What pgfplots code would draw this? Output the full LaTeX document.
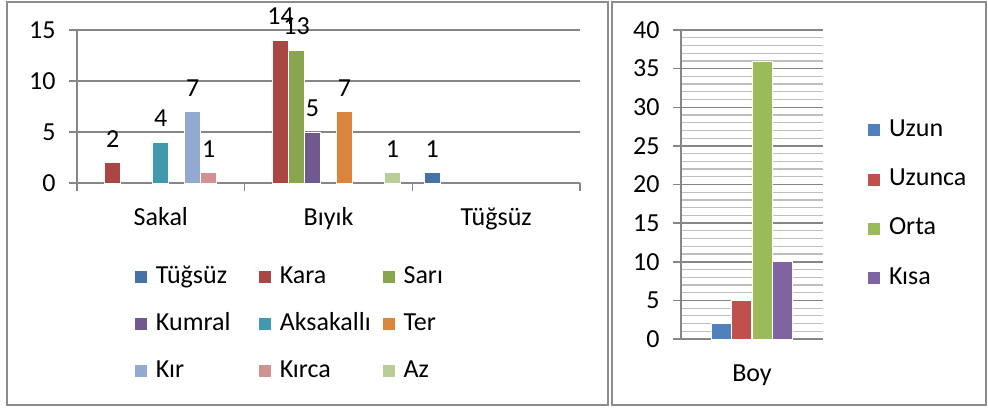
\documentclass[border=0pt]{standalone}
\usepackage{pgfplots}
\pgfplotsset{compat=1.18}
\usepackage{fontspec}
\setmainfont{Carlito}
\definecolor{gridgray}{HTML}{868686}
\definecolor{framegray}{HTML}{8C8C8C}
\definecolor{minorgray}{HTML}{BEBEBE}
\definecolor{cA}{HTML}{4572A7}
\definecolor{cB}{HTML}{AA4643}
\definecolor{cC}{HTML}{89A54E}
\definecolor{cD}{HTML}{71588F}
\definecolor{cE}{HTML}{4198AF}
\definecolor{cF}{HTML}{DB843D}
\definecolor{cG}{HTML}{93A9CF}
\definecolor{cH}{HTML}{D19392}
\definecolor{cI}{HTML}{B9CD96}
\definecolor{rA}{HTML}{4F81BD}
\definecolor{rB}{HTML}{C0504D}
\definecolor{rC}{HTML}{9BBB59}
\definecolor{rD}{HTML}{8064A2}
\newcommand\cf{\fontsize{26}{30}\selectfont}
\pgfplotsset{
  sq legend/.style={legend image code/.code={\fill[##1] (0pt,-6.5pt) rectangle (13pt,6.5pt);}},
}
\begin{document}
\begin{tikzpicture}
\useasboundingbox (0,0) rectangle (988pt,-407pt);
\draw[framegray, line width=2pt] (7pt,-2pt) rectangle (608pt,-405pt);
\draw[framegray, line width=2pt] (612pt,-2pt) rectangle (986pt,-405pt);
\begin{axis}[
  at={(77pt,-183pt)}, anchor=south west,
  scale only axis, width=503pt, height=153pt,
  ybar=0pt, bar width=16pt,
  /pgf/number format/assume math mode=true,
  xmin=-0.5, xmax=2.5, ymin=0, ymax=15,
  xtick={-0.5,0.5,1.5,2.5}, xticklabels={},
  extra x ticks={0,1,2}, extra x tick labels={Sakal,Bıyık,Tüğsüz},
  extra x tick style={major tick length=0pt, xticklabel style={yshift=-21pt}},
  ytick={0,5,10,15},
  yticklabel style={xshift=-10pt},
  axis lines=left, axis line style={-, draw=gridgray, line width=1.5pt},
  ymajorgrids, grid style={gridgray, line width=1.5pt},
  tick align=outside, major tick length=8pt,
  tick style={gridgray, line width=1.5pt},
  tick label style={font=\cf, text=black},
  every axis plot/.append style={draw=white, line width=0.8pt, sq legend},
  nodes near coords, nodes near coords style={font=\cf, text=black, anchor=south, inner sep=0pt, yshift=15pt},
  legend columns=3, legend cell align=left,
  legend style={draw=none, fill=none, at={(0.1133,-0.535)}, anchor=north west, font=\cf,
    inner sep=0pt, row sep=23pt, nodes={inner sep=0pt, text height=18pt, text depth=6pt},
    /tikz/every odd column/.append style={column sep=8pt}},
  clip=false,
]
\addplot[fill=cA] coordinates {(2,1)};
\addplot[fill=cB] coordinates {(0,2) (1,14)};
\addplot[fill=cC] coordinates {(1,13)};
\addplot[fill=cD] coordinates {(1,5)};
\addplot[fill=cE] coordinates {(0,4)};
\addplot[fill=cF] coordinates {(1,7)};
\addplot[fill=cG] coordinates {(0,7)};
\addplot[fill=cH] coordinates {(0,1)};
\addplot[fill=cI] coordinates {(1,1)};
\legend{\makebox[102pt][l]{Tüğsüz},\makebox[102pt][l]{Kara},\makebox[102pt][l]{Sarı},
        \makebox[102pt][l]{Kumral},\makebox[102pt][l]{Aksakallı},\makebox[102pt][l]{Ter},
        \makebox[102pt][l]{Kır},\makebox[102pt][l]{Kırca},\makebox[102pt][l]{Az}}
\end{axis}
\begin{axis}[
  at={(681pt,-339pt)}, anchor=south west,
  scale only axis, width=142pt, height=309pt,
  ybar=0.5pt, bar width=20pt,
  /pgf/number format/assume math mode=true,
  xmin=-0.5, xmax=0.5, ymin=0, ymax=40,
  xtick={0}, xticklabels={Boy},
  x tick style={draw=none},
  xticklabel style={yshift=-14pt},
  ytick={0,5,...,40},
  yticklabel style={xshift=-10pt},
  minor y tick num=4, minor tick length=0pt,
  axis lines=left, axis line style={-, draw=gridgray, line width=1.5pt},
  ymajorgrids, yminorgrids,
  major grid style={gridgray, line width=1.5pt},
  minor grid style={minorgray, line width=1.2pt},
  tick align=outside, major tick length=8pt,
  tick style={gridgray, line width=1.5pt},
  tick label style={font=\cf, text=black},
  every axis plot/.append style={draw=white, line width=0.8pt, sq legend},
  legend cell align=left,
  legend style={draw=none, fill=none, at={(1.31,0.715)}, anchor=north west, font=\cf,
    inner sep=0pt, row sep=25.3pt, nodes={inner sep=0pt, text height=18pt, text depth=6pt},
    /tikz/every odd column/.append style={column sep=8pt}},
  clip=false,
]
\addplot[fill=rA] coordinates {(0,2)};
\addplot[fill=rB] coordinates {(0,5)};
\addplot[fill=rC] coordinates {(0,36)};
\addplot[fill=rD] coordinates {(0,10)};
\legend{Uzun,Uzunca,Orta,Kısa}
\end{axis}
\end{tikzpicture}
\end{document}
